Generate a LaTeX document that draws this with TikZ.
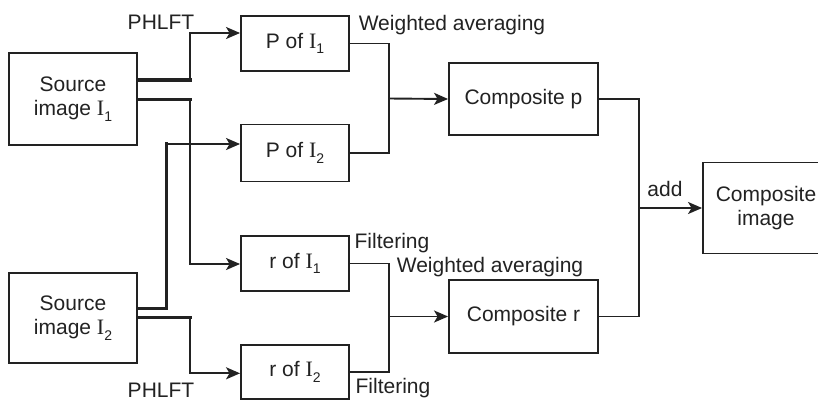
\documentclass[tikz,border=0pt]{standalone}
\usepackage{fontspec}
\setmainfont{Liberation Sans}
\newfontfamily\serifI{Liberation Serif}
\usetikzlibrary{arrows.meta}
\newcommand{\Isub}[1]{{\serifI\fontsize{22}{22}\selectfont I}\raisebox{-5.5pt}{\fontsize{14}{14}\selectfont #1}}
\definecolor{ink}{HTML}{222222}
\begin{document}
\begin{tikzpicture}[x=1pt,y=-1pt,
  font=\fontsize{21}{24}\selectfont,
  every node/.style={text=ink},
  box/.style={draw=ink, line width=1.9pt, inner sep=0pt, align=center},
  wire/.style={draw=ink, line width=1.9pt},
  heavy/.style={draw=ink, line width=3.4pt, line cap=rect},
  arrowwire/.style={wire, -{Stealth[length=14pt,width=12pt,inset=3.5pt]}},
  lbl/.style={inner sep=0pt}]
\useasboundingbox (0,0) rectangle (818,400);
\fill[white] (0,0) rectangle (818,400);
\clip (0,0) rectangle (818,400);

% blocks
\node[box, minimum width=128pt, minimum height=92pt] (s1) at (73,99) {Source\\image \Isub{1}};
\node[box, minimum width=128pt, minimum height=90pt] (s2) at (73,318) {Source\\image \Isub{2}};
\node[box, minimum width=108pt, minimum height=55pt] (p1) at (295,43.5) {P of \Isub{1}};
\node[box, minimum width=108pt, minimum height=57pt] (p2) at (295,153) {P of \Isub{2}};
\node[box, minimum width=108pt, minimum height=55pt] (r1) at (295,263.5) {r of \Isub{1}};
\node[box, minimum width=108pt, minimum height=54pt] (r2) at (295,372) {r of \Isub{2}};
\node[box, minimum width=149pt, minimum height=72pt] (cp) at (523.5,99) {Composite p};
\node[box, minimum width=149pt, minimum height=73pt] (cr) at (523.5,316.5) {Composite r};
\node[box, minimum width=126pt, minimum height=91pt] (ci) at (766,208) {Composite\\image};

% bend points
\coordinate (a1) at (190,80);
\coordinate (a1t) at (190,33);
\coordinate (b1) at (190,99.3);
\coordinate (b1b) at (190,264);
\coordinate (c2) at (166.7,308.3);
\coordinate (c2t) at (166.7,144);
\coordinate (d2) at (190,317.3);
\coordinate (d2b) at (190,373.3);
\coordinate (mp) at (389,98.5);
\coordinate (mr) at (389,316.5);
\coordinate (ma) at (639,208);

% PHLFT branches
\draw[heavy] (s1.east |- a1) -- (a1);
\draw[arrowwire] (a1) -- (a1t) -- (p1.west |- a1t);
\draw[heavy] (s1.east |- b1) -- (b1);
\draw[arrowwire] (b1) -- (b1b) -- (r1.west |- b1b);
\draw[heavy] (s2.east |- c2) -- (c2) -- (c2t);
\draw[arrowwire] (c2t) -- (p2.west |- c2t);
\draw[heavy] (s2.east |- d2) -- (d2);
\draw[arrowwire] (d2) -- (d2b) -- (r2.west |- d2b);

% merging
\draw[wire] (p1.east) -| (mp);
\draw[wire] (p2.east) -| (mp);
\draw[arrowwire] (mp) -- (cp.west);
\draw[wire] (r1.east) -| (mr);
\draw[wire] (r2.east) -| (mr);
\draw[arrowwire] (mr) -- (cr.west);
\draw[wire] (cp.east) -| (ma);
\draw[wire] (cr.east) -| (ma);
\draw[arrowwire] (ma) -- (ci.west);

% labels
\node[lbl] (t1) at (161,22) {PHLFT};
\node[lbl] (t2) at (161,390) {PHLFT};
\node[lbl] (w1) at (452,25) {Weighted averaging};
\node[lbl] (w2) at (490,267) {Weighted averaging};
\node[lbl] (f1) at (392,243) {Filtering};
\node[lbl] (f2) at (393,388) {Filtering};
\node[lbl] (ad) at (665,189) {add};
\end{tikzpicture}
\end{document}
